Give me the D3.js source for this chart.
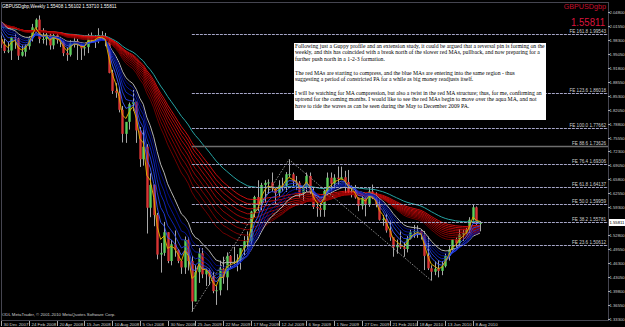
<!DOCTYPE html>
<html><head><meta charset="utf-8">
<script src="https://cdn.jsdelivr.net/npm/d3@7"></script>
<style>html,body{margin:0;padding:0;background:#000;overflow:hidden}</style>
</head><body><svg id="c" width="625" height="327"></svg>
<script>
// ---------------- data ----------------
const symbolTitle = "GBPUSDgbp,Weekly  1.55408 1.56102 1.53710 1.55811";
const symbolName = "GBPUSDgbp";
const lastPrice = 1.55811;
const copyright = "ODL MetaTrader, \u00A9 2001-2010 MetaQuotes Software Corp.";
const dateLabels = ["30 Dec 2007","24 Feb 2008","20 Apr 2008","15 Jun 2008","10 Aug 2008","5 Oct 2008","30 Nov 2008","25 Jan 2009","22 Mar 2009","17 May 2009","12 Jul 2009","6 Sep 2009","1 Nov 2009","27 Dec 2009","21 Feb 2010","18 Apr 2010","13 Jun 2010","8 Aug 2010"];
const dateLabelBars = [0,8,16,24,32,40,48,56,64,72,80,88,96,104,112,120,128,136];
const priceTicks = [1.33300,1.36550,1.39800,1.43050,1.46300,1.49550,1.52800,1.56050,1.59300,1.62550,1.65800,1.69050,1.72300,1.75550,1.78800,1.82050,1.85300,1.88550,1.91800,1.95050,1.98300,2.01550,2.04800];
// warm-up closes (2007, before the first visible bar) used only to seed the moving averages
const warmCloses = [1.9850,1.9910,2.0080,2.0120,2.0310,2.0480,2.0390,2.0220,2.0110,1.9950,2.0120,2.0170,2.0120,2.0230,2.0160,2.0390,2.0400,2.0420,2.0480,2.0620,2.0810,2.0950,2.0720,2.0530,2.0620,2.0350,2.0330,2.0030,1.9840];
const opens = [1.9850,1.9720,1.9570,1.9580,1.9890,1.9860,1.9460,1.9550,1.9680,1.9870,2.0120,2.0300,1.9850,1.9850,1.9950,1.9700,1.9940,1.9830,1.9780,1.9520,1.9480,1.9750,1.9800,1.9720,1.9630,1.9660,1.9930,1.9810,1.9840,1.9940,1.9890,1.9800,1.9060,1.8640,1.8600,1.8200,1.7640,1.7920,1.8330,1.8380,1.7720,1.7050,1.7340,1.5920,1.6450,1.5750,1.4830,1.4870,1.5350,1.4680,1.5070,1.4940,1.4680,1.4530,1.5170,1.4680,1.3740,1.4420,1.4860,1.4370,1.4470,1.4320,1.3980,1.4000,1.4500,1.4300,1.4800,1.4630,1.4660,1.4710,1.4980,1.5140,1.5140,1.5830,1.6170,1.5980,1.6450,1.6500,1.6510,1.6370,1.6260,1.6440,1.6430,1.6700,1.6700,1.6530,1.6500,1.6240,1.6390,1.6660,1.6290,1.5940,1.5910,1.5870,1.6310,1.6620,1.6480,1.6620,1.6590,1.6630,1.6520,1.6290,1.6310,1.6160,1.5970,1.6150,1.6010,1.6300,1.6140,1.5990,1.5640,1.5660,1.5390,1.5230,1.5000,1.5060,1.5000,1.4960,1.5200,1.5350,1.5380,1.5380,1.5290,1.4800,1.4510,1.4430,1.4500,1.4450,1.4560,1.4800,1.4950,1.5190,1.5090,1.5300,1.5330,1.5400,1.5640,1.5930,1.55408];
const highs = [1.9930,1.9850,1.9780,1.9900,1.9970,1.9880,1.9700,1.9720,1.9910,2.0200,2.0330,2.0396,2.0100,1.9990,1.9990,2.0000,2.0000,1.9900,1.9810,1.9650,1.9820,1.9900,1.9850,1.9740,1.9700,1.9970,2.0000,1.9940,2.0100,2.0030,1.9990,1.9850,1.9130,1.8820,1.8720,1.8290,1.7900,1.8370,1.8660,1.8390,1.7800,1.7740,1.7400,1.6720,1.6460,1.5800,1.5100,1.5590,1.5350,1.5170,1.5390,1.4960,1.4700,1.5250,1.5240,1.4800,1.4590,1.4980,1.4980,1.4500,1.4500,1.4420,1.4100,1.4690,1.4780,1.4880,1.4820,1.5010,1.4840,1.4980,1.5260,1.5370,1.5850,1.6200,1.6560,1.6500,1.6560,1.6580,1.6740,1.6380,1.6560,1.6620,1.6750,1.7043,1.6740,1.6660,1.6540,1.6410,1.6740,1.6740,1.6390,1.6070,1.6030,1.6340,1.6740,1.6740,1.6700,1.6880,1.6877,1.6780,1.6800,1.6440,1.6450,1.6160,1.6250,1.6160,1.6380,1.6460,1.6280,1.6120,1.5750,1.5780,1.5630,1.5230,1.5180,1.5390,1.5100,1.5260,1.5410,1.5520,1.5510,1.5410,1.5380,1.5250,1.4580,1.4670,1.4700,1.4680,1.4860,1.5040,1.5190,1.5230,1.5420,1.5400,1.5450,1.5700,1.5999,1.5950,1.56102];
const lows = [1.9640,1.9520,1.9520,1.9360,1.9620,1.9360,1.9440,1.9440,1.9600,1.9790,2.0000,1.9750,1.9740,1.9700,1.9600,1.9610,1.9740,1.9660,1.9450,1.9340,1.9440,1.9650,1.9360,1.9360,1.9460,1.9520,1.9780,1.9640,1.9750,1.9860,1.9680,1.9050,1.8570,1.8480,1.8140,1.7440,1.7430,1.7740,1.8170,1.7430,1.6870,1.6900,1.5320,1.5700,1.5490,1.4720,1.4410,1.4800,1.4630,1.4580,1.4780,1.4630,1.4380,1.4380,1.4460,1.3503,1.3740,1.4170,1.4280,1.4100,1.4120,1.3930,1.3658,1.3880,1.4150,1.4000,1.4520,1.4600,1.4440,1.4480,1.4820,1.5010,1.5050,1.5700,1.5840,1.5860,1.6040,1.6240,1.6300,1.6000,1.6190,1.6300,1.6290,1.6630,1.6400,1.6330,1.6160,1.6080,1.6290,1.6240,1.5890,1.5710,1.5710,1.5710,1.6210,1.6270,1.6360,1.6450,1.6580,1.6250,1.6250,1.6160,1.6130,1.5840,1.5880,1.5720,1.5940,1.6120,1.5930,1.5620,1.5500,1.5340,1.5150,1.4780,1.4850,1.4960,1.4780,1.4880,1.5180,1.5220,1.5220,1.5180,1.4470,1.4470,1.4226,1.4350,1.4300,1.4350,1.4530,1.4690,1.4870,1.5000,1.5000,1.5150,1.5300,1.5330,1.5620,1.5520,1.53710];
const closes = [1.9720,1.9570,1.9580,1.9890,1.9860,1.9460,1.9550,1.9680,1.9870,2.0120,2.0300,1.9850,1.9850,1.9950,1.9700,1.9940,1.9830,1.9780,1.9520,1.9480,1.9750,1.9800,1.9720,1.9630,1.9660,1.9930,1.9810,1.9840,1.9940,1.9890,1.9800,1.9060,1.8640,1.8600,1.8200,1.7640,1.7920,1.8330,1.8380,1.7720,1.7050,1.7340,1.5920,1.6450,1.5750,1.4830,1.4870,1.5350,1.4680,1.5070,1.4940,1.4680,1.4530,1.5170,1.4680,1.3740,1.4420,1.4860,1.4370,1.4470,1.4320,1.3980,1.4000,1.4500,1.4300,1.4800,1.4630,1.4660,1.4710,1.4980,1.5140,1.5140,1.5830,1.6170,1.5980,1.6450,1.6500,1.6510,1.6370,1.6260,1.6440,1.6430,1.6700,1.6700,1.6530,1.6500,1.6240,1.6390,1.6660,1.6290,1.5940,1.5910,1.5870,1.6310,1.6620,1.6480,1.6620,1.6590,1.6630,1.6520,1.6290,1.6310,1.6160,1.5970,1.6150,1.6010,1.6300,1.6140,1.5990,1.5640,1.5660,1.5390,1.5230,1.5000,1.5060,1.5000,1.4960,1.5200,1.5350,1.5380,1.5380,1.5290,1.4800,1.4510,1.4430,1.4500,1.4450,1.4560,1.4800,1.4950,1.5190,1.5090,1.5300,1.5330,1.5400,1.5640,1.5930,1.5540,1.55811];
// Guppy-style moving average periods
const fastPeriod = 3;
const bluePeriods = [5,7,9,11,13];
const grayPeriod = 15;
const redPeriods = [27,30,33,36,39,42,45,48,51];
const aquaPeriod = 60;
// Fibonacci expansion tool: A, B, C points and levels
const feBars = [55,83,124];
const fePrices = [1.3503,1.7043,1.42256];
const feRatios = ["161.8","123.6","100.0","88.6","76.4","61.8","50.0","38.2","23.6"];
const feValues = [1.99543,1.86018,1.77662,1.73626,1.69306,1.64137,1.59959,1.55781,1.50612];
const noteLines = [
 "Following just a Guppy profile and an extension study, it could be argued that a reversal pin is forming on the",
 "weekly, and this has coincided with a break north of the slower red MAs, pullback, and now preparing for a",
 "further push north in a 1-2-3 formation.",
 "",
 "The red MAs are starting to compress, and the blue MAs are entering into the same region - thus",
 "suggesting a period of constricted PA for a while as big money readjusts itself.",
 "",
 "I will be watching for MA compression, but also a twist in the red MA structure; thus, for me, confirming an",
 "uptrend for the coming months. I would like to see the red MAs begin to move over the aqua MA, and not",
 "have to ride the waves as can be seen during the May to December 2009 PA."
];

// ---------------- chart ----------------
const svg = d3.select("#c");
const W = 625, H = 327;
const plotL = 1, plotR = 608, plotT = 2, plotB = 320;
const x = d3.scaleLinear().domain([0, 138]).range([1, 479.9]);
const y = d3.scaleLinear().domain([1.333, 2.064]).range([319, 5]);
const SANS = "Liberation Sans, Arial, sans-serif";

svg.append("rect").attr("width", W).attr("height", H).attr("fill", "#000");
svg.append("defs").append("clipPath").attr("id", "clip")
  .append("rect").attr("x", plotL).attr("y", plotT).attr("width", plotR - plotL).attr("height", plotB - plotT);
const plot = svg.append("g").attr("clip-path", "url(#clip)");

function ema(src, n) { const a = 2 / (n + 1); let e = src[0]; return src.map(v => (e = e + a * (v - e))); }
const allC = warmCloses.concat(closes);
const maOf = n => ema(allC, n).slice(warmCloses.length);
const line = d3.line().x((d, i) => x(i)).y(d => y(d));

// candles
const bars = closes.map((c, i) => ({ i, o: opens[i], h: highs[i], l: lows[i], c }));
const cg = plot.append("g");
cg.selectAll("line.w").data(bars).join("line")
  .attr("x1", d => Math.round(x(d.i)) + 0.5).attr("x2", d => Math.round(x(d.i)) + 0.5)
  .attr("y1", d => y(d.h)).attr("y2", d => y(d.l))
  .attr("stroke", "#a8a8a8").attr("stroke-width", 1);
cg.selectAll("rect.b").data(bars).join("rect")
  .attr("x", d => Math.round(x(d.i)) - 0.7).attr("width", 2.4)
  .attr("y", d => y(Math.max(d.o, d.c)))
  .attr("height", d => Math.max(1, Math.abs(y(d.o) - y(d.c))))
  .attr("fill", d => d.c >= d.o ? "#5ccf5c" : "#d83434");

// moving averages
const mg = plot.append("g").attr("fill", "none");
mg.append("path").attr("d", line(maOf(aquaPeriod))).attr("stroke", "#26a3a3").attr("stroke-width", 1);
const redCols = d3.quantize(d3.interpolateRgb("#ff1010", "#8a0000"), redPeriods.length);
redPeriods.slice().reverse().forEach((p, k) => {
  mg.append("path").attr("d", line(maOf(p))).attr("stroke", redCols[k]).attr("stroke-width", 0.8);
});
mg.append("path").attr("d", line(maOf(grayPeriod))).attr("stroke", "#b4b4b4").attr("stroke-width", 1);
const blueCols = ["#3d5cff", "#2440e6", "#1028c8", "#0818a8", "#020c88"];
bluePeriods.slice().reverse().forEach((p, k) => {
  mg.append("path").attr("d", line(maOf(p))).attr("stroke", blueCols[blueCols.length - 1 - k]).attr("stroke-width", 0.9);
});
mg.append("path").attr("d", line(maOf(fastPeriod))).attr("stroke", "#d8a800").attr("stroke-width", 1);

// Fibonacci expansion
const fg = plot.append("g");
fg.selectAll("line.fe").data(feValues).join("line")
  .attr("x1", x(feBars[0])).attr("x2", plotR)
  .attr("y1", d => Math.round(y(d)) + 0.5).attr("y2", d => Math.round(y(d)) + 0.5)
  .attr("stroke", (d, i) => feRatios[i] === "88.6" ? "#6e6e6e" : "#a6a6c8")
  .attr("stroke-width", (d, i) => feRatios[i] === "88.6" ? 1.4 : 1)
  .attr("stroke-dasharray", (d, i) => feRatios[i] === "88.6" ? null : "3,1");
fg.selectAll("text.fe").data(feValues).join("text")
  .attr("x", 606).attr("y", d => Math.round(y(d)) - 1)
  .attr("text-anchor", "end").attr("fill", "#cfcfcf")
  .attr("font-family", SANS).attr("font-size", 4.6)
  .text((d, i) => "FE " + feRatios[i] + " " + d.toFixed(5));
fg.append("path")
  .attr("d", d3.line().x(d => x(d[0])).y(d => y(d[1]))(feBars.map((b, i) => [b, fePrices[i]])))
  .attr("fill", "none").attr("stroke", "#b0b0b0").attr("stroke-width", 0.8).attr("stroke-dasharray", "1.5,1.5");

// frame
svg.append("rect").attr("x", plotL + 0.5).attr("y", plotT + 0.5).attr("width", plotR - plotL).attr("height", plotB - plotT)
  .attr("fill", "none").attr("stroke", "#8a8aa0").attr("stroke-dasharray", "1,1");

// price axis
const ag = svg.append("g").attr("font-family", SANS).attr("font-size", 4.2).attr("fill", "#cfcfcf");
priceTicks.filter(v => Math.abs(y(v) - y(lastPrice)) > 6).forEach(v => {
  const yy = Math.round(y(v)) + 0.5;
  ag.append("line").attr("x1", plotR).attr("x2", plotR + 2).attr("y1", yy).attr("y2", yy).attr("stroke", "#aaa");
  ag.append("text").attr("x", 609.5).attr("y", yy + 1.6).text(v.toFixed(5));
});
const ly = Math.round(y(lastPrice));
ag.append("rect").attr("x", 609).attr("y", ly - 3).attr("width", 16).attr("height", 7).attr("fill", "#fff");
ag.append("text").attr("x", 609.5).attr("y", ly + 2).attr("fill", "#000").text(lastPrice.toFixed(5));

// date axis
const dg = svg.append("g").attr("font-family", SANS).attr("font-size", 4.4).attr("fill", "#cfcfcf");
dateLabels.forEach((t, k) => {
  const xx = Math.round(x(dateLabelBars[k])) + 0.5;
  dg.append("line").attr("x1", xx).attr("x2", xx).attr("y1", plotB + 1).attr("y2", plotB + 6).attr("stroke", "#aaa");
  dg.append("text").attr("x", xx + 2).attr("y", 326).text(t);
});

// titles
svg.append("text").attr("x", 2).attr("y", 8).attr("fill", "#fff")
  .attr("font-family", SANS).attr("font-size", 4.6).text(symbolTitle);
svg.append("text").attr("x", 606).attr("y", 9).attr("text-anchor", "end").attr("fill", "#c8102e")
  .attr("font-family", SANS).attr("font-size", 7.2).text(symbolName);
svg.append("text").attr("x", 605).attr("y", 25.5).attr("text-anchor", "end").attr("fill", "#dc143c")
  .attr("font-family", SANS).attr("font-size", 11.5)
  .attr("textLength", 34).attr("lengthAdjust", "spacingAndGlyphs").text(lastPrice.toFixed(5));
svg.append("text").attr("x", 2).attr("y", 316).attr("fill", "#d0d0d0")
  .attr("font-family", SANS).attr("font-size", 4.3).text(copyright);

// note box
const nb = svg.append("g");
nb.append("rect").attr("x", 294).attr("y", 43).attr("width", 252).attr("height", 77).attr("fill", "#fff");
const ng = nb.append("g").attr("font-family", "Liberation Serif, Times New Roman, serif").attr("font-size", 6.2).attr("fill", "#000");
noteLines.forEach((t, k) => {
  ng.append("text").attr("x", 0).attr("y", 47.8 + k * 6.7).text(t);
});
const w0 = ng.select("text").node().getComputedTextLength();
const sx = 250 / w0;
ng.attr("transform", `translate(295,0) scale(${sx},1)`);
</script>
</body></html>
